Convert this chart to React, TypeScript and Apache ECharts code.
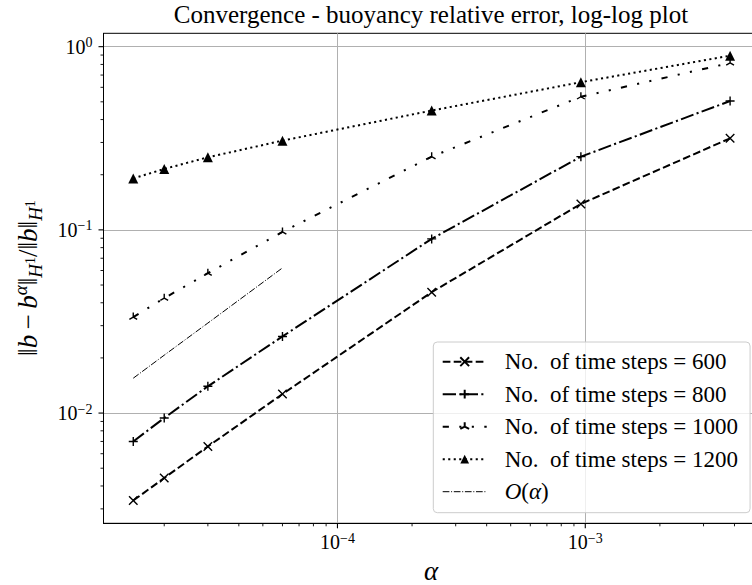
import React, { useEffect, useRef } from 'react';
import * as echarts from 'echarts';

// Regularisation parameter values (x) and relative errors (y) per run
const alpha = [1.5e-5, 2e-5, 3e-5, 6e-5, 2.4e-4, 9.6e-4, 3.84e-3];
const errSteps600 = [3.33e-3, 4.42e-3, 6.57e-3, 1.27e-2, 4.57e-2, 0.1386, 0.316];
const errSteps800 = [7.0e-3, 9.4e-3, 1.4e-2, 2.62e-2, 8.93e-2, 0.251, 0.505];
const errSteps1000 = [3.34e-2, 4.24e-2, 5.8e-2, 9.75e-2, 0.251, 0.533, 0.815];
const errSteps1200 = [0.191, 0.215, 0.249, 0.307, 0.448, 0.64, 0.893];

// First-order reference slope
const refAlpha = [1.5e-5, 2e-5, 3e-5, 6e-5];
const refOrderOne = [0.0155, 0.0207, 0.031, 0.062];

const seriesNames = [
  'No.\u00a0 of time steps = 600',
  'No.\u00a0 of time steps = 800',
  'No.\u00a0 of time steps = 1000',
  'No.\u00a0 of time steps = 1200',
  'O(\u03b1)',
];

// Axis limits (log-space margins around the data) and tick values
const xMin = Math.pow(10, -4.944);
const xMax = Math.pow(10, -2.295);
const yMin = Math.pow(10, -2.6017);
const yMax = Math.pow(10, 0.073);
const xMajorTicks = [1e-4, 1e-3];
const xMinorTicks = [
  2e-5, 3e-5, 4e-5, 5e-5, 6e-5, 7e-5, 8e-5, 9e-5,
  2e-4, 3e-4, 4e-4, 5e-4, 6e-4, 7e-4, 8e-4, 9e-4,
  2e-3, 3e-3, 4e-3, 5e-3,
];
const yMajorTicks = [1e-2, 1e-1, 1];
const yMinorTicks = [
  3e-3, 4e-3, 5e-3, 6e-3, 7e-3, 8e-3, 9e-3,
  2e-2, 3e-2, 4e-2, 5e-2, 6e-2, 7e-2, 8e-2, 9e-2,
  0.2, 0.3, 0.4, 0.5, 0.6, 0.7, 0.8, 0.9,
];

const FONT = "'Liberation Serif', 'DejaVu Serif', serif";
const GRID_COLOR = '#b0b0b0';

const X_MARK = 'path://M0,0L10,10M10,0L0,10';
const PLUS_MARK = 'path://M5,0L5,10M0,5L10,5';
const TRI_UP = 'path://M5,5L5,0M5,5L0.67,7.5M5,5L9.33,7.5M5,10L5,10';

const powLabel = (v: number) => {
  const e = Math.round(Math.log10(v));
  const s = e < 0 ? '\u2212' + String(-e) : String(e);
  return `{b|10}{s|${s}}`;
};

const tickRich = {
  b: { fontSize: 20, lineHeight: 22, fontFamily: FONT, color: '#000' },
  s: { fontSize: 14, lineHeight: 14, fontFamily: FONT, color: '#000', verticalAlign: 'top' },
};

const pairs = (xs: number[], ys: number[]) => xs.map((x, i) => [x, ys[i]]);

const makeSeries = (
  name: string,
  data: number[][],
  dash: any,
  symbol: string,
  symbolSize: number,
  filled: boolean,
  width = 2
) => ({
  type: 'line',
  name,
  data,
  symbol,
  symbolSize,
  symbolKeepAspect: true,
  showAllSymbol: true,
  silent: true,
  emphasis: { disabled: true },
  lineStyle: { color: '#000', width, type: dash, cap: 'butt' },
  itemStyle: filled
    ? { color: '#000', borderWidth: 0 }
    : { color: '#000', borderColor: '#000', borderWidth: 1.4 },
});

// Tick marks drawn outside the spines, positioned by the axes' own scales
const tickSeries = (values: number[], dim: 'x' | 'y', len: number, width: number) => ({
  type: 'custom',
  silent: true,
  clip: false,
  z: 5,
  data: values.map((v) => (dim === 'x' ? [v, yMin] : [xMin, v])),
  renderItem: (_params: any, api: any) => {
    const p = api.coord([api.value(0), api.value(1)]);
    const shape =
      dim === 'x'
        ? { x1: p[0], y1: p[1], x2: p[0], y2: p[1] + len }
        : { x1: p[0] - len, y1: p[1], x2: p[0], y2: p[1] };
    return { type: 'line', shape, style: { stroke: '#000', lineWidth: width } };
  },
});

const majorAxis = (min: number, max: number, ticks: number[], margin: number) => ({
  type: 'log',
  logBase: 10,
  min,
  max,
  axisLine: { show: true, lineStyle: { color: '#000', width: 1 } },
  splitLine: { show: true, lineStyle: { color: GRID_COLOR, width: 1 } },
  axisTick: { show: false, customValues: ticks },
  axisLabel: { customValues: ticks, margin, formatter: powLabel, rich: tickRich },
});

const option = {
  animation: false,
  backgroundColor: '#fff',
  title: {
    text: 'Convergence - buoyancy relative error, log-log plot',
    left: 431,
    top: 2,
    padding: 0,
    textAlign: 'center',
    textStyle: { fontFamily: FONT, fontSize: 25, fontWeight: 'normal', color: '#000' },
  },
  grid: {
    left: 103.5,
    right: 0,
    top: 33.3,
    bottom: 61.7,
    show: true,
    borderColor: '#000',
    borderWidth: 1,
    backgroundColor: 'transparent',
  },
  xAxis: { ...majorAxis(xMin, xMax, xMajorTicks, 8), position: 'bottom' },
  yAxis: { ...majorAxis(yMin, yMax, yMajorTicks, 11), position: 'left' },
  legend: {
    orient: 'vertical',
    left: 433.3,
    top: 342,
    padding: [7.7, 12, 9, 8.4],
    itemWidth: 44,
    itemHeight: 11,
    itemGap: 8.5,
    selectedMode: false,
    backgroundColor: 'rgba(255,255,255,0.8)',
    borderColor: '#cccccc',
    borderWidth: 1,
    borderRadius: 4,
    textStyle: {
      fontFamily: FONT,
      fontSize: 23,
      lineHeight: 24,
      color: '#000',
      padding: [0, 0, 0, 13],
      rich: {
        it: { fontFamily: FONT, fontSize: 23, fontStyle: 'italic', color: '#000' },
        up: { fontFamily: FONT, fontSize: 23, color: '#000' },
      },
    },
    formatter: (name: string) =>
      name === seriesNames[4] ? '{it|O}{up|(}{it|\u03b1}{up|)}' : name,
    data: [
      seriesNames[0],
      seriesNames[1],
      seriesNames[2],
      seriesNames[3],
      { name: seriesNames[4], itemStyle: { opacity: 0 }, lineStyle: { width: 1 } },
    ],
  },
  graphic: [
    {
      type: 'text',
      x: 431,
      y: 571,
      silent: true,
      style: {
        text: '\u03b1',
        fontFamily: FONT,
        fontSize: 27,
        lineHeight: 20,
        fontStyle: 'italic',
        fill: '#000',
        align: 'center',
        verticalAlign: 'middle',
      },
    },
    {
      type: 'text',
      x: 28,
      y: 278,
      rotation: Math.PI / 2,
      silent: true,
      style: {
        text: '{n|\u2016}{i|b}{n|\u2009\u2212\u2009}{i|b}{sup|\u03b1}{n|\u2016}{sub|H}{ss|1}{n|/\u2016}{i|b}{n|\u2016}{sub|H}{ss|1}',
        align: 'center',
        verticalAlign: 'middle',
        fill: '#000',
        rich: {
          n: { fontFamily: FONT, fontSize: 27, lineHeight: 27, verticalAlign: 'middle', fill: '#000' },
          i: { fontFamily: FONT, fontSize: 27, lineHeight: 27, fontStyle: 'italic', verticalAlign: 'middle', fill: '#000' },
          sup: { fontFamily: FONT, fontSize: 19, lineHeight: 19, fontStyle: 'italic', verticalAlign: 'middle', padding: [0, 0, 15, 0], fill: '#000' },
          sub: { fontFamily: FONT, fontSize: 19, lineHeight: 19, fontStyle: 'italic', verticalAlign: 'middle', padding: [15, 0, 0, 0], fill: '#000' },
          ss: { fontFamily: FONT, fontSize: 14, lineHeight: 14, verticalAlign: 'middle', padding: [5, 0, 0, 0], fill: '#000' },
        },
      },
    },
  ],
  series: [
    makeSeries(seriesNames[0], pairs(alpha, errSteps600), [7.7, 3.3], X_MARK, 8.5, false),
    makeSeries(seriesNames[1], pairs(alpha, errSteps800), [13.3, 3.3, 2.1, 3.3], PLUS_MARK, 9, false),
    makeSeries(seriesNames[2], pairs(alpha, errSteps1000), [6.2, 10.4, 2.1, 10.4, 2.1, 10.4], TRI_UP, 9, false),
    makeSeries(seriesNames[3], pairs(alpha, errSteps1200), [2.1, 3.4], 'triangle', 10, true),
    {
      ...makeSeries(seriesNames[4], pairs(refAlpha, refOrderOne), [6.7, 1.7, 1, 1.7], 'none', 0, true, 1),
      showSymbol: false,
    },
    tickSeries(xMajorTicks, 'x', 5, 1.1),
    tickSeries(yMajorTicks, 'y', 5, 1.1),
    tickSeries(xMinorTicks, 'x', 3, 0.9),
    tickSeries(yMinorTicks, 'y', 3, 0.9),
  ],
};

export default function App() {
  const ref = useRef<HTMLDivElement>(null);
  useEffect(() => {
    if (!ref.current) return;
    const chart = echarts.init(ref.current, null, { renderer: 'svg' });
    chart.setOption(option as any);
    return () => chart.dispose();
  }, []);
  return (
    <div
      style={{
        position: 'absolute',
        left: 0,
        top: 0,
        width: 752,
        height: 585,
        overflow: 'hidden',
        background: '#fff',
      }}
    >
      <div ref={ref} style={{ width: 760, height: 585 }} />
    </div>
  );
}
